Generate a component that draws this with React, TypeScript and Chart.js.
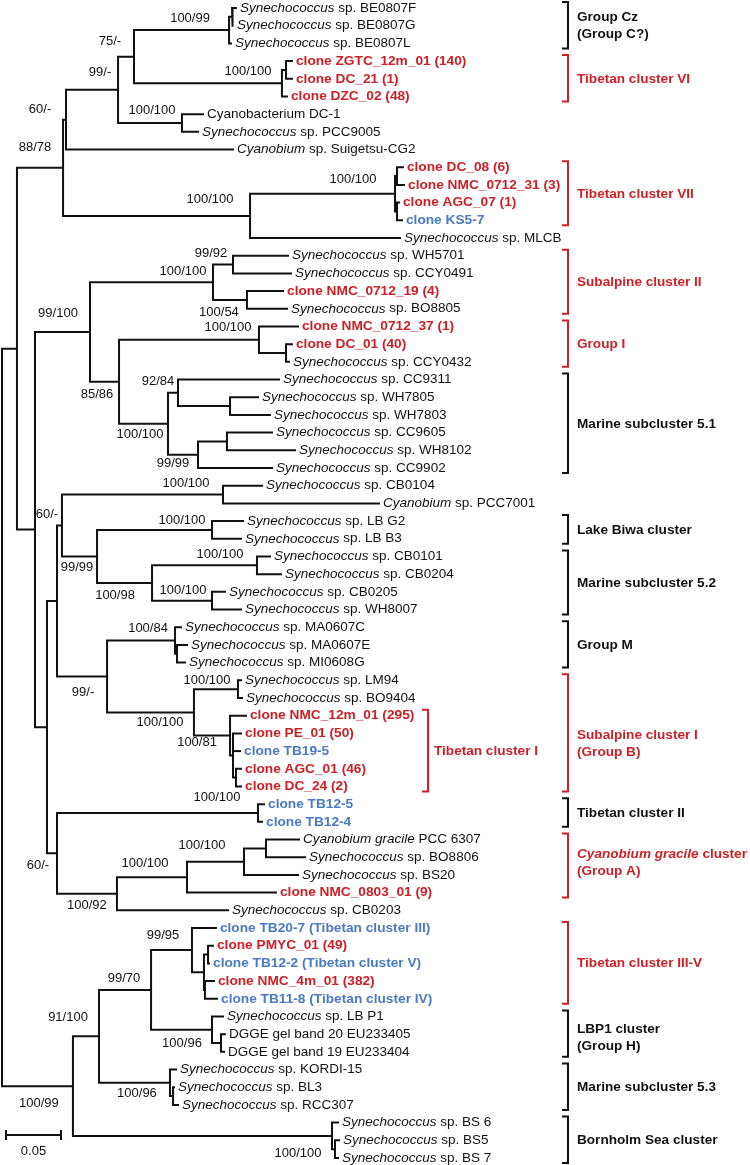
import { useEffect, useRef } from "react";
import { Chart, registerables } from "chart.js";

Chart.register(...registerables);

// ---------- DATA ----------
// Leaf labels, top to bottom (text between * is italic)
const leafNames: string[] = [
  "*Synechococcus* sp. BE0807F",
  "*Synechococcus* sp. BE0807G",
  "*Synechococcus* sp. BE0807L",
  "clone ZGTC_12m_01 (140)",
  "clone DC_21 (1)",
  "clone DZC_02 (48)",
  "Cyanobacterium DC-1",
  "*Synechococcus* sp. PCC9005",
  "*Cyanobium* sp. Suigetsu-CG2",
  "clone DC_08 (6)",
  "clone NMC_0712_31 (3)",
  "clone AGC_07 (1)",
  "clone KS5-7",
  "*Synechococcus* sp. MLCB",
  "*Synechococcus* sp. WH5701",
  "*Synechococcus* sp. CCY0491",
  "clone NMC_0712_19 (4)",
  "*Synechococcus* sp. BO8805",
  "clone NMC_0712_37 (1)",
  "clone DC_01 (40)",
  "*Synechococcus* sp. CCY0432",
  "*Synechococcus* sp. CC9311",
  "*Synechococcus* sp. WH7805",
  "*Synechococcus* sp. WH7803",
  "*Synechococcus* sp. CC9605",
  "*Synechococcus* sp. WH8102",
  "*Synechococcus* sp. CC9902",
  "*Synechococcus* sp. CB0104",
  "*Cyanobium* sp. PCC7001",
  "*Synechococcus* sp. LB G2",
  "*Synechococcus* sp. LB B3",
  "*Synechococcus* sp. CB0101",
  "*Synechococcus* sp. CB0204",
  "*Synechococcus* sp. CB0205",
  "*Synechococcus* sp. WH8007",
  "*Synechococcus* sp. MA0607C",
  "*Synechococcus* sp. MA0607E",
  "*Synechococcus* sp. MI0608G",
  "*Synechococcus* sp. LM94",
  "*Synechococcus* sp. BO9404",
  "clone NMC_12m_01 (295)",
  "clone PE_01 (50)",
  "clone TB19-5",
  "clone AGC_01 (46)",
  "clone DC_24 (2)",
  "clone TB12-5",
  "clone TB12-4",
  "*Cyanobium gracile* PCC 6307",
  "*Synechococcus* sp. BO8806",
  "*Synechococcus* sp. BS20",
  "clone NMC_0803_01 (9)",
  "*Synechococcus* sp. CB0203",
  "clone TB20-7 (Tibetan cluster III)",
  "clone PMYC_01 (49)",
  "clone TB12-2 (Tibetan cluster V)",
  "clone NMC_4m_01 (382)",
  "clone TB11-8 (Tibetan cluster IV)",
  "*Synechococcus* sp. LB P1",
  "DGGE gel band 20 EU233405",
  "DGGE gel band 19 EU233404",
  "*Synechococcus* sp. KORDI-15",
  "*Synechococcus* sp. BL3",
  "*Synechococcus* sp. RCC307",
  "*Synechococcus* sp. BS 6",
  "*Synechococcus* sp. BS5",
  "*Synechococcus* sp. BS 7",
];

// 0 = reference sequence, 1 = clone (this study), 2 = clone (other study)
const leafKind: number[] = [
  0, 0, 0, 1, 1, 1, 0, 0, 0, 1, 1, 1, 2, 0, 0, 0, 1, 0, 1, 1, 0, 0, 0, 0, 0, 0,
  0, 0, 0, 0, 0, 0, 0, 0, 0, 0, 0, 0, 0, 0, 1, 1, 2, 1, 1, 2, 2, 0, 0, 0, 1, 0,
  2, 1, 2, 1, 2, 0, 0, 0, 0, 0, 0, 0, 0, 0,
];

// Distance of each leaf tip from the root (substitutions per site)
const leafDepth: number[] = [
  0.2127, 0.21, 0.2082, 0.2636, 0.2636, 0.2591, 0.1827, 0.1782, 0.21, 0.3645,
  0.3655, 0.3609, 0.3636, 0.3618, 0.26, 0.2627, 0.2555, 0.2591, 0.2691, 0.2636,
  0.2609, 0.2518, 0.2327, 0.2436, 0.2455, 0.2664, 0.2455, 0.2364, 0.3427,
  0.2191, 0.2173, 0.2436, 0.2536, 0.2027, 0.2173, 0.1627, 0.1682, 0.1664,
  0.2173, 0.2182, 0.2218, 0.2173, 0.2164, 0.2173, 0.2173, 0.2382, 0.2364, 0.27,
  0.2755, 0.2691, 0.2491, 0.2055, 0.1945, 0.1918, 0.1882, 0.1927, 0.1955,
  0.2009, 0.2027, 0.2018, 0.1582, 0.1564, 0.16, 0.3055, 0.3064, 0.3055,
];

// Internal nodes
const nodeIds: string[] = [
  "BEa", "BE", "T6a", "T6", "n75", "DC1", "n99a", "n60a", "T7a", "T7b", "T7",
  "MLCB", "n88", "WH57", "BO88", "S2", "G1a", "G1", "WH78", "n92", "CC96",
  "n9999", "M51", "n85", "n99100", "CB01", "LB", "CB0101", "CB0205", "M52",
  "n9999b", "n60b", "GMa", "GM", "LM", "T1c", "T1b", "T1", "S1", "n99m",
  "n57a", "TB12", "CGa", "CGb", "CGc", "n10092", "n57b", "n47", "n35", "n17",
  "T35a", "T35b", "T35c", "n9995", "LBPa", "LBP", "n9970", "M53a", "M53",
  "n91", "BSa", "BS", "n73", "root",
];
const nodeDepth: number[] = [
  0.2091, 0.2064, 0.2582, 0.2545, 0.12, 0.1636, 0.1055, 0.0582, 0.3591,
  0.3591, 0.3573, 0.2255, 0.0555, 0.21, 0.2227, 0.1918, 0.2582, 0.2336,
  0.2073, 0.16, 0.2045, 0.1782, 0.1509, 0.1064, 0.08, 0.2009, 0.1909, 0.2318,
  0.1909, 0.1364, 0.0864, 0.0545, 0.1591, 0.1573, 0.2145, 0.2127, 0.21,
  0.2073, 0.1745, 0.0955, 0.05, 0.2327, 0.24, 0.22, 0.1682, 0.1045, 0.05,
  0.0409, 0.03, 0.0136, 0.1873, 0.1845, 0.1836, 0.1727, 0.1991, 0.1909,
  0.1355, 0.1555, 0.1527, 0.0882, 0.3027, 0.3, 0.0645, 0,
];
const nodeSupport: string[] = [
  "", "100/99", "", "100/100", "75/-", "100/100", "99/-", "60/-", "", "",
  "100/100", "100/100", "88/78", "99/92", "100/54", "100/100", "", "100/100",
  "", "92/84", "", "99/99", "100/100", "85/86", "99/100", "100/100", "100/100",
  "100/100", "100/100", "100/98", "99/99", "60/-", "", "100/84", "100/100", "",
  "", "100/81", "100/100", "99/-", "", "100/100", "", "100/100", "100/100",
  "100/92", "60/-", "", "", "", "", "", "", "99/95", "", "100/96", "99/70", "",
  "100/96", "91/100", "", "100/100", "100/99", "",
];
// Children: numbers are leaf indices, strings are node ids
const nodeChildren: (number | string)[][] = [
  [0, 1], ["BEa", 2], [3, 4], ["T6a", 5], ["BE", "T6"], [6, 7], ["n75", "DC1"],
  ["n99a", 8], [9, 10], [11, 12], ["T7a", "T7b"], ["T7", 13], ["n60a", "MLCB"],
  [14, 15], [16, 17], ["WH57", "BO88"], [19, 20], [18, "G1a"], [22, 23],
  [21, "WH78"], [24, 25], ["CC96", 26], ["n92", "n9999"], ["G1", "M51"],
  ["S2", "n85"], [27, 28], [29, 30], [31, 32], [33, 34], ["CB0101", "CB0205"],
  ["LB", "M52"], ["CB01", "n9999b"], [36, 37], [35, "GMa"], [38, 39], [43, 44],
  [41, 42, "T1c"], [40, "T1b"], ["LM", "T1"], ["GM", "S1"], ["n60b", "n99m"],
  [45, 46], [47, 48], ["CGa", 49], ["CGb", 50], ["CGc", 51], ["TB12", "n10092"],
  ["n57a", "n57b"], ["n99100", "n47"], ["n88", "n35"], [53, 54], [55, 56],
  ["T35a", "T35b"], [52, "T35c"], [58, 59], [57, "LBPa"], ["n9995", "LBP"],
  [61, 62], [60, "M53a"], ["n9970", "M53"], [64, 65], [63, "BSa"], ["n91", "BS"],
  ["n17", "n73"],
];

// Clusters marked with brackets on the right
const clusterLabels: string[][] = [
  ["Group Cz", "(Group C?)"],
  ["Tibetan cluster VI"],
  ["Tibetan cluster VII"],
  ["Subalpine cluster II"],
  ["Group I"],
  ["Marine subcluster 5.1"],
  ["Lake Biwa cluster"],
  ["Marine subcluster 5.2"],
  ["Group M"],
  ["Subalpine cluster I", "(Group B)"],
  ["Tibetan cluster I"],
  ["Tibetan cluster II"],
  ["*Cyanobium gracile* cluster", "(Group A)"],
  ["Tibetan cluster III-V"],
  ["LBP1 cluster", "(Group H)"],
  ["Marine subcluster 5.3"],
  ["Bornholm Sea cluster"],
];
const clusterFirst: number[] = [0, 3, 9, 14, 18, 21, 29, 31, 35, 38, 40, 45, 47, 52, 57, 60, 63];
const clusterLast: number[] = [2, 5, 12, 17, 20, 26, 30, 34, 37, 44, 44, 46, 50, 56, 59, 62, 65];
const clusterTibetanOrSubalpine: boolean[] = [
  false, true, true, true, true, false, false, false, false, true, true, false,
  true, true, false, false, false,
];
const scaleBarValue = 0.05;

// ---------- LAYOUT / STYLE ----------
const FONT = '"Liberation Sans", Arial, Helvetica, sans-serif';
const RED = "#cc1f26";
const BLUE = "#4a7abf";
const INK = "#111111";
const BRACKET_X = 568;
const INNER_BRACKET_X = 428;
const innerCluster = 10; // Tibetan cluster I sits closer to the tree
const clusterLabelShift: Record<number, number> = { 9: 10, 12: -3, 14: 4 };
const supportOffset: Record<string, [number, number]> = {
  BE: [-39, -12], T6: [-34, -12], n75: [-24, -15], DC1: [-30, -13],
  n99a: [-18, -17], n60a: [-26, -10], T7: [-42, -14], MLCB: [-40, -16],
  n88: [-28, -20], WH57: [-22, -11], BO88: [-28, 12], S2: [-30, -11],
  G1: [-31, -12], n92: [-20, -11], n9999: [-25, 9], M51: [-28, 11],
  n85: [-22, 13], n99100: [-32, -19], CB01: [-37, -11], LB: [-30, -10],
  CB0101: [-37, -11], CB0205: [-29, -10], M52: [-37, 12], n9999b: [-20, 11],
  n60b: [-15, -11], GM: [-27, -12], LM: [-31, -9], T1: [-33, 7], S1: [-34, 10],
  n99m: [-24, 16], TB12: [-41, -16], CGb: [-42, -16], CGc: [-42, -14],
  n10092: [-30, 12], n57b: [-19, 12], n9995: [-29, -15], LBP: [-30, 14],
  n9970: [-27, -12], M53: [-33, 11], n91: [-31, -19], BS: [-34, 18],
  n73: [-34, 17],
};

// ---------- TREE HELPERS ----------
const nodeIndex: Record<string, number> = {};
nodeIds.forEach((id, i) => (nodeIndex[id] = i));

function depthOf(ref: number | string): number {
  return typeof ref === "number" ? leafDepth[ref] : nodeDepth[nodeIndex[ref]];
}
function rowOf(ref: number | string): number {
  if (typeof ref === "number") return ref;
  const ch = nodeChildren[nodeIndex[ref]];
  return (rowOf(ch[0]) + rowOf(ch[ch.length - 1])) / 2;
}

function buildDatasets() {
  const sets: any[] = [];
  const base = {
    showLine: true,
    borderColor: INK,
    borderWidth: 2,
    pointRadius: 0,
    borderJoinStyle: "miter",
    borderCapStyle: "square",
    clip: false,
  };
  nodeIds.forEach((id, i) => {
    const ch = nodeChildren[i];
    const d = nodeDepth[i];
    const first = ch[0];
    const last = ch[ch.length - 1];
    sets.push({
      ...base,
      data: [
        { x: depthOf(first), y: rowOf(first) },
        { x: d, y: rowOf(first) },
        { x: d, y: rowOf(last) },
        { x: depthOf(last), y: rowOf(last) },
      ],
    });
    ch.slice(1, -1).forEach((c) => {
      sets.push({
        ...base,
        data: [
          { x: d, y: rowOf(c) },
          { x: depthOf(c), y: rowOf(c) },
        ],
      });
    });
  });
  return sets;
}

function drawRich(
  ctx: CanvasRenderingContext2D,
  text: string,
  x: number,
  y: number,
  bold: boolean,
  color: string,
  size: number
) {
  const parts = text.split("*");
  let cx = x;
  parts.forEach((p, k) => {
    if (!p) return;
    const italic = k % 2 === 1;
    ctx.font = `${italic ? "italic " : ""}${bold ? "bold " : ""}${size}px ${FONT}`;
    ctx.fillStyle = color;
    ctx.fillText(p, cx, y);
    cx += ctx.measureText(p).width;
  });
}

const treeText = {
  id: "treeText",
  afterDatasetsDraw(chart: any) {
    const ctx: CanvasRenderingContext2D = chart.ctx;
    const xs = chart.scales.x;
    const ys = chart.scales.y;
    ctx.save();
    ctx.textBaseline = "middle";
    ctx.textAlign = "left";

    // leaf labels
    leafNames.forEach((name, i) => {
      const kind = leafKind[i];
      const color = kind === 1 ? RED : kind === 2 ? BLUE : INK;
      drawRich(
        ctx,
        name,
        xs.getPixelForValue(leafDepth[i]) + 4,
        ys.getPixelForValue(i),
        kind !== 0,
        color,
        kind === 0 ? 13.5 : 13.7
      );
    });

    // support values
    ctx.textAlign = "center";
    ctx.font = `13px ${FONT}`;
    ctx.fillStyle = INK;
    nodeIds.forEach((id, i) => {
      const s = nodeSupport[i];
      if (!s) return;
      const off = supportOffset[id] || [-25, -12];
      const px = xs.getPixelForValue(nodeDepth[i]) + off[0];
      const py = ys.getPixelForValue(rowOf(id)) + off[1];
      ctx.fillText(s, px, py);
    });

    // cluster brackets
    ctx.textAlign = "left";
    clusterLabels.forEach((lines, k) => {
      const color = clusterTibetanOrSubalpine[k] ? RED : INK;
      const inner = k === innerCluster;
      const bx = inner ? INNER_BRACKET_X : BRACKET_X;
      const y1 = ys.getPixelForValue(clusterFirst[k]);
      const y2 = ys.getPixelForValue(clusterLast[k]);
      const top = y1 - 6;
      const bot = y2 + 5;
      ctx.strokeStyle = color;
      ctx.lineWidth = 2;
      ctx.beginPath();
      ctx.moveTo(bx - 6, top);
      ctx.lineTo(bx, top);
      ctx.lineTo(bx, bot);
      ctx.lineTo(bx - 6, bot);
      ctx.stroke();
      const mid = (y1 + y2) / 2 + (clusterLabelShift[k] || 0);
      const tx = bx + (inner ? 6 : 9);
      lines.forEach((ln, j) => {
        drawRich(ctx, ln, tx, mid + (j - (lines.length - 1) / 2) * 17, true, color, 13.6);
      });
    });

    // scale bar
    const x0 = 6;
    const len = xs.getPixelForValue(scaleBarValue) - xs.getPixelForValue(0);
    const sy = ys.getPixelForValue(leafNames.length - 1) - 23;
    ctx.strokeStyle = INK;
    ctx.lineWidth = 2;
    ctx.beginPath();
    ctx.moveTo(x0, sy);
    ctx.lineTo(x0 + len, sy);
    ctx.moveTo(x0, sy - 5);
    ctx.lineTo(x0, sy + 5);
    ctx.moveTo(x0 + len, sy - 5);
    ctx.lineTo(x0 + len, sy + 5);
    ctx.stroke();
    ctx.textAlign = "center";
    ctx.font = `13px ${FONT}`;
    ctx.fillStyle = INK;
    ctx.fillText(String(scaleBarValue), x0 + len / 2, sy + 16);
    ctx.restore();
  },
};

export default function App() {
  const ref = useRef<HTMLCanvasElement>(null);
  useEffect(() => {
    if (!ref.current) return;
    const chart = new Chart(ref.current, {
      type: "scatter",
      data: { datasets: buildDatasets() },
      options: {
        responsive: false,
        animation: false,
        devicePixelRatio: 1,
        layout: { padding: { left: 2, right: 0, top: 8, bottom: 7 } },
        plugins: { legend: { display: false }, tooltip: { enabled: false } },
        scales: {
          x: { type: "linear", min: 0, max: 0.68, display: false },
          y: { type: "linear", min: 0, max: leafNames.length - 1, reverse: true, display: false },
        },
        events: [],
      },
      plugins: [treeText],
    } as any);
    return () => chart.destroy();
  }, []);
  return (
    <div style={{ position: "absolute", left: 0, top: 0, width: 750, height: 1165, background: "#fff" }}>
      <canvas ref={ref} width={750} height={1165} style={{ display: "block" }} />
    </div>
  );
}
